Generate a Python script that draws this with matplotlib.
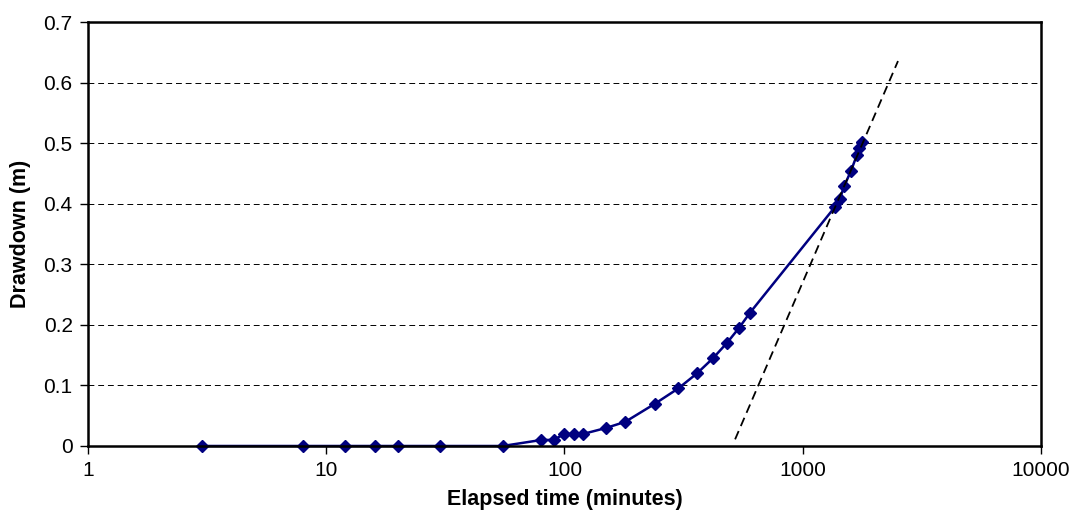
import matplotlib.pyplot as plt
import numpy as np

plt.rcParams['font.family'] = ['Liberation Sans', 'DejaVu Sans']

# Pumping test: elapsed time (min) vs drawdown (m)
time_min = [3, 8, 12, 16, 20, 30, 55, 80, 90, 100, 110, 120, 150, 180, 240,
            300, 360, 420, 480, 540, 600, 1365, 1430, 1495, 1595, 1685, 1725, 1780]
drawdown = [0, 0, 0, 0, 0, 0, 0, 0.01, 0.01, 0.02, 0.02, 0.02, 0.03, 0.04, 0.07,
            0.095, 0.12, 0.145, 0.17, 0.195, 0.22, 0.395, 0.408, 0.43, 0.455, 0.48, 0.493, 0.503]

# Straight-line fit on the late-time data (semi-log)
fit_time = [520, 2510]
fit_draw = [0.011, 0.636]

x_ticks = [1, 10, 100, 1000, 10000]
x_tick_labels = ["1", "10", "100", "1000", "10000"]
y_ticks = np.arange(0, 0.71, 0.1)

fig = plt.figure(figsize=(10.74, 5.14), dpi=100)
ax = fig.add_axes([0.0819, 0.1323, 0.8874, 0.8243])

ax.plot(time_min, drawdown, color="#000080", linewidth=1.8, marker="D",
        markersize=6, zorder=3, clip_on=False)
ax.plot(fit_time, fit_draw, color="black", linestyle=(0, (5, 3)), linewidth=1.3, zorder=4)

ax.set_xscale("log")
ax.set_xlim(1, 10000)
ax.set_ylim(0, 0.7)
ax.set_xticks(x_ticks)
ax.set_xticklabels(x_tick_labels)
ax.xaxis.set_minor_locator(plt.NullLocator())
ax.set_yticks(y_ticks)
ax.set_yticklabels([f"{v:g}" for v in np.round(y_ticks, 1)])

# Dashed horizontal grid
for y in y_ticks[1:-1]:
    ax.axhline(y, color="black", linestyle=(0, (6, 4)), linewidth=0.7, zorder=1)

for s in ax.spines.values():
    s.set_linewidth(1.8)
    s.set_zorder(5)

ax.tick_params(axis="both", direction="out", length=6, width=1, labelsize=15, pad=5)

ax.set_xlabel("Elapsed time (minutes)", fontsize=15.5, fontweight="bold", labelpad=6)
ax.set_ylabel("Drawdown (m)", fontsize=15.5, fontweight="bold", labelpad=9)

plt.savefig("out.png", dpi=100)
